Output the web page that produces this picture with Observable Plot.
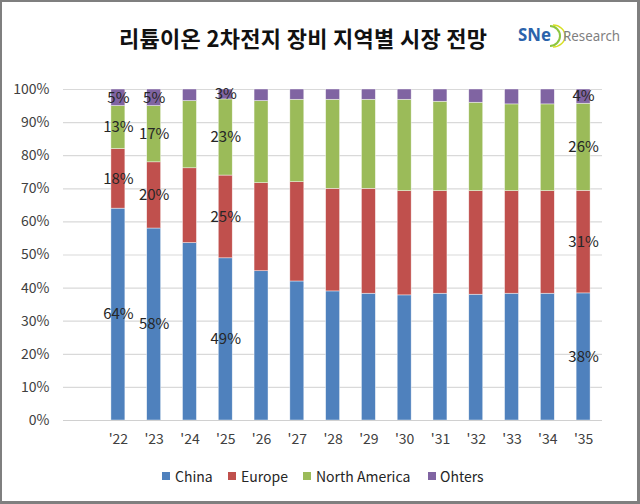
<!DOCTYPE html>
<html>
<head>
<meta charset="utf-8">
<script src="https://cdn.jsdelivr.net/npm/d3@7"></script>
<script src="https://cdn.jsdelivr.net/npm/@observablehq/plot@0.6"></script>
<style>
  body { margin: 0; background: #fff; }
  #frame { position: relative; width: 640px; height: 504px; background: #fff; overflow: hidden;
           font-family: "Noto Sans CJK KR", "Noto Sans", sans-serif; color: #262626; }
  #border { position: absolute; left: 0; top: 0; width: 640px; height: 504px; box-sizing: border-box;
            border: 2px solid #7f7f7f; border-right-width: 3px; border-bottom-width: 3px; pointer-events: none; }
  #title { position: absolute; left: 119px; top: 23px; font-size: 22px; font-weight: 700; line-height: 28px;
           letter-spacing: 0.3px; color: #111; white-space: nowrap; }
  #logo { position: absolute; left: 514px; top: 22px; overflow: visible; }
  #chart { position: absolute; left: 0; top: 60px; }
  .leg { position: absolute; top: 467px; font-size: 14px; line-height: 18px; white-space: nowrap; color: #262626; }
  .sw { position: absolute; top: 472px; width: 8px; height: 8px; }
</style>
</head>
<body>
<div id="frame">
  <div id="title">리튬이온 2차전지 장비 지역별 시장 전망</div>
  <svg id="logo" width="116" height="28" viewBox="0 0 116 28">
    <text x="4" y="19" font-family="Noto Sans, sans-serif" font-weight="700" font-size="17" fill="#2b63ab" textLength="33" lengthAdjust="spacingAndGlyphs">SNe</text>
    <path d="M36 4 A10 10 0 0 1 36 24" fill="none" stroke="#8dc63f" stroke-width="2"/>
    <path d="M39 3 A12 11 0 0 1 39 25" fill="none" stroke="#d7df23" stroke-width="1.5"/>
    <text x="49" y="19" font-family="Noto Sans, sans-serif" font-size="15" fill="#7f7f7f" textLength="57" lengthAdjust="spacingAndGlyphs">Research</text>
  </svg>
  <div id="chart"></div>
  <div class="sw" style="left:162px;background:#4f81bd"></div><div class="leg" style="left:175px">China</div>
  <div class="sw" style="left:228px;background:#c0504d"></div><div class="leg" style="left:241px">Europe</div>
  <div class="sw" style="left:303px;background:#9bbb59"></div><div class="leg" style="left:316px">North America</div>
  <div class="sw" style="left:428px;background:#8064a2"></div><div class="leg" style="left:440px">Ohters</div>
  <div id="border"></div>
</div>
<script>
const years = ["'22","'23","'24","'25","'26","'27","'28","'29","'30","'31","'32","'33","'34","'35"];
const regions = ["China","Europe","North America","Ohters"];
const colors = ["#4f81bd","#c0504d","#9bbb59","#8064a2"];
const china        = [64, 58, 53.6, 49, 45.1, 42.0, 39.0, 38.3, 37.8, 38.3, 38.0, 38.3, 38.3, 38.4];
const europe       = [18, 20, 22.6, 25, 26.6, 30.0, 31.0, 31.7, 31.5, 31.0, 31.3, 31.0, 31.0, 31.0];
const northAmerica = [13, 17, 20.3, 23, 24.8, 24.9, 26.9, 26.9, 27.6, 27.0, 26.7, 26.2, 26.2, 26.3];
const others       = [5,  5,  3.5,  3,  3.5,  3.1,  3.1,  3.1,  3.1,  3.7,  4.0,  4.5,  4.5,  4.3];
const labeledYears = ["'22","'23","'25","'35"];
const yTicks = [0,10,20,30,40,50,60,70,80,90,100];

const series = [china, europe, northAmerica, others];
const rows = [];
years.forEach((yr, i) => {
  regions.forEach((r, k) => rows.push({year: yr, region: r, value: series[k][i]}));
});
const labelRows = rows.filter(d => labeledYears.includes(d.year));

const plot = Plot.plot({
  width: 640,
  height: 400,
  marginTop: 29,
  marginBottom: 40,
  marginLeft: 63,
  marginRight: 38,
  style: {fontFamily: '"Noto Sans CJK KR", "Noto Sans", sans-serif', fontSize: "14px", color: "#404040", background: "transparent"},
  x: {domain: years, paddingInner: 0.61, paddingOuter: 0.305, insetLeft: 37, insetRight: 1, round: false, label: null},
  y: {domain: [0, 100], label: null},
  color: {domain: regions, range: colors},
  marks: [
    Plot.ruleY(yTicks, {stroke: "#d9d9d9", strokeWidth: 1.2}),
    Plot.barY(rows, {x: "year", y: "value", fill: "region", stroke: "#ffffff", strokeWidth: 0.6, strokeOpacity: 0.7}),
    Plot.ruleY([0], {stroke: "#d0d0d0", strokeWidth: 1.2}),
    Plot.text(labelRows, Plot.stackY({x: "year", y: "value", z: "region",
      text: d => Math.round(d.value) + "%", fill: "#262626", fontSize: 15})),
    Plot.axisY(yTicks, {tickSize: 0, tickPadding: 14, tickFormat: d => d + "%", label: null, fontSize: 14}),
    Plot.axisX({tickSize: 0, tickPadding: 14, label: null, fontSize: 14})
  ]
});
document.getElementById("chart").appendChild(plot);
</script>
</body>
</html>
